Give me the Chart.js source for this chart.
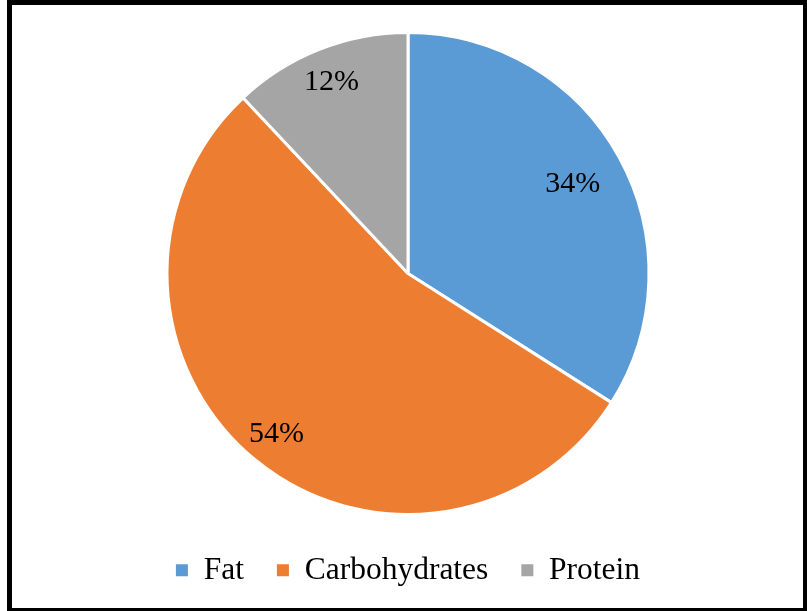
<!DOCTYPE html>
<html>
<head>
<meta charset="utf-8">
<script src="https://cdn.jsdelivr.net/npm/chart.js@4.4.1/dist/chart.umd.min.js"></script>
<style>
  html, body { margin: 0; padding: 0; background: #ffffff; }
  #wrap { position: relative; width: 807px; height: 611px; overflow: hidden; }
  #chart { position: absolute; left: 0; top: 0; }
  #frame {
    position: absolute; left: 7px; top: 0; width: 800px; height: 611px;
    box-sizing: border-box; pointer-events: none;
    border-style: solid; border-color: #000;
    border-width: 5px 4px 3px 5px;
  }
</style>
</head>
<body>
<div id="wrap">
  <canvas id="chart" width="807" height="611"></canvas>
  <div id="frame"></div>
</div>
<script>
// Share of energy by macronutrient (percent)
const categories = ['Fat', 'Carbohydrates', 'Protein'];
const shares = [34, 54, 12];
const sliceColors = ['#5B9BD5', '#ED7D31', '#A5A5A5'];

// Percentage labels drawn inside each slice
const sliceLabels = {
  id: 'sliceLabels',
  afterDatasetsDraw(chart, args, opts) {
    const ctx = chart.ctx;
    const meta = chart.getDatasetMeta(0);
    const values = chart.data.datasets[0].data;
    const total = values.reduce((a, b) => a + b, 0);
    ctx.save();
    ctx.font = opts.font;
    ctx.fillStyle = opts.color;
    ctx.textAlign = 'center';
    ctx.textBaseline = 'middle';
    meta.data.forEach((arc, i) => {
      const p = arc.getProps(['x', 'y', 'startAngle', 'endAngle', 'outerRadius'], true);
      const mid = (p.startAngle + p.endAngle) / 2;
      const r = p.outerRadius * opts.radial[i];
      const text = Math.round(values[i] / total * 100) + '%';
      ctx.fillText(text, p.x + Math.cos(mid) * r, p.y + Math.sin(mid) * r + 1.5);
    });
    ctx.restore();
  }
};

const pieLegendLabels = Chart.overrides.pie.plugins.legend.labels.generateLabels;

new Chart(document.getElementById('chart'), {
  type: 'pie',
  data: {
    labels: categories,
    datasets: [{
      data: shares,
      backgroundColor: sliceColors,
      borderColor: '#ffffff',
      borderWidth: 3
    }]
  },
  plugins: [sliceLabels],
  options: {
    responsive: false,
    animation: false,
    radius: 241,
    layout: { padding: { left: 9, right: 0, top: 25.5, bottom: 15 } },
    plugins: {
      tooltip: { enabled: false },
      legend: {
        position: 'bottom',
        labels: {
          boxWidth: 12,
          boxHeight: 12,
          padding: 33,
          color: '#000000',
          font: { family: '"Liberation Serif", "Times New Roman", serif', size: 31.5 },
          generateLabels(chart) {
            // plain filled squares, without the slice outline
            return pieLegendLabels(chart).map(item => Object.assign(item, { lineWidth: 0 }));
          }
        }
      },
      sliceLabels: {
        font: '30px "Liberation Serif", "Times New Roman", serif',
        color: '#000000',
        radial: [0.78, 0.856, 0.862]
      }
    }
  }
});
</script>
</body>
</html>
